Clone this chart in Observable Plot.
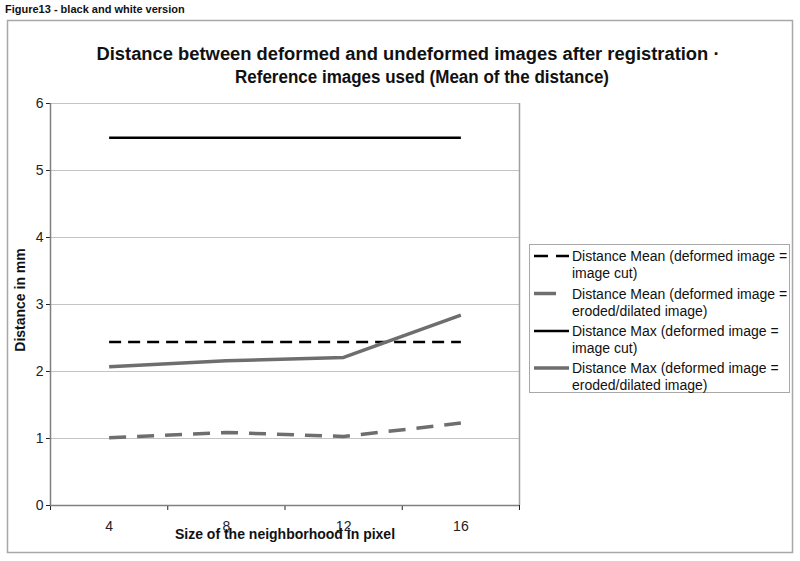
<!DOCTYPE html>
<html>
<head>
<meta charset="utf-8">
<script src="https://cdn.jsdelivr.net/npm/d3@7"></script>
<script src="https://cdn.jsdelivr.net/npm/@observablehq/plot@0.6"></script>
<style>
  html, body { margin: 0; padding: 0; background: #fff; }
  #chart { position: relative; width: 800px; height: 561px; }
</style>
</head>
<body>
<div id="chart"></div>
<script>
// ---- data ----
const sizes = [4, 8, 12, 16];
const xTickLabels = ["4", "8", "12", "16"];
const yTicks = [0, 1, 2, 3, 4, 5, 6];
const seriesNames = [
  "Distance Mean (deformed image = image cut)",
  "Distance Mean (deformed image = eroded/dilated image)",
  "Distance Max (deformed image = image cut)",
  "Distance Max (deformed image = eroded/dilated image)"
];
const meanCut     = [2.44, 2.44, 2.44, 2.44];
const meanEroded  = [1.01, 1.09, 1.03, 1.23];
const maxCut      = [5.49, 5.49, 5.49, 5.49];
const maxEroded   = [2.07, 2.16, 2.21, 2.84];
const legendLines = [
  ["Distance Mean (deformed image =", "image cut)"],
  ["Distance Mean (deformed image =", "eroded/dilated image)"],
  ["Distance Max (deformed image =", "image cut)"],
  ["Distance Max (deformed image =", "eroded/dilated image)"]
];

// ---- styles ----
const styles = [
  {stroke: "#000000", width: 2.5, dash: "12,7"},
  {stroke: "#6e6e6e", width: 3.5, dash: "17,11"},
  {stroke: "#000000", width: 2.5, dash: null},
  {stroke: "#6e6e6e", width: 3.5, dash: null}
];
const allSeries = [meanCut, meanEroded, maxCut, maxEroded];
const rows = [];
allSeries.forEach((vals, i) => vals.forEach((v, j) => rows.push({series: seriesNames[i], idx: i, x: sizes[j], y: v})));

const font = "'Liberation Sans', Arial, sans-serif";

const marks = [
  Plot.ruleY([1, 2, 3, 4, 5, 6], {stroke: "#c4c4c4", strokeWidth: 1}),
  Plot.ruleX([18], {stroke: "#a0a0a0", strokeWidth: 1.5}),
  Plot.ruleX([2], {stroke: "#808080", strokeWidth: 1.5}),
  Plot.ruleY([0], {stroke: "#808080", strokeWidth: 1.5}),
  ...styles.map((s, i) => Plot.line(rows.filter(r => r.idx === i), {
    x: "x", y: "y", stroke: s.stroke, strokeWidth: s.width,
    strokeDasharray: s.dash || undefined, strokeLinecap: "butt", strokeLinejoin: "round"
  })),
  Plot.text(sizes, {x: d => d, y: 0, dy: 21, text: (d, i) => xTickLabels[i], fontSize: 14, fill: "#222"})
];

const plot = Plot.plot({
  width: 800,
  height: 561,
  marginLeft: 50,
  marginRight: 281,
  marginTop: 103,
  marginBottom: 56,
  style: {fontFamily: font, fontSize: "14px", background: "transparent", color: "#222"},
  x: {type: "linear", domain: [2, 18], ticks: [2, 6, 10, 14, 18], tickFormat: () => "", tickSize: 5, label: null},
  y: {domain: [0, 6], ticks: yTicks, tickSize: 4, tickPadding: 3, tickFormat: d3.format("d"), label: null},
  marks
});

document.getElementById("chart").appendChild(plot);

const svg = d3.select(plot);
// axis tick colour
svg.selectAll("g[aria-label='x-axis'] line, g[aria-label='y-axis'] line, g[aria-label='x-axis'] path, g[aria-label='y-axis'] path")
  .attr("stroke", "#808080");
svg.selectAll("g[aria-label='y-axis'] text").attr("font-size", 14).style("font-size", "14px");

// outer frame
svg.insert("rect", ":first-child")
  .attr("x", 7.5).attr("y", 20.5).attr("width", 785).attr("height", 532)
  .attr("fill", "#fff").attr("stroke", "#a8a8a8").attr("stroke-width", 1.5);

// figure label
svg.append("text").attr("x", 5).attr("y", 13).attr("text-anchor", "start")
  .attr("font-family", font).attr("font-size", 11).attr("font-weight", "bold")
  .attr("fill", "#111").text("Figure13 - black and white version");

// title
const t1 = "Distance between deformed and undeformed images after registration \u00b7";
const t2 = "Reference images used (Mean of the distance)";
svg.append("text").attr("x", 408).attr("y", 60).attr("text-anchor", "middle")
  .attr("font-family", font).attr("font-size", 18).attr("font-weight", "bold")
  .attr("fill", "#111").attr("textLength", 623).attr("lengthAdjust", "spacingAndGlyphs").text(t1);
svg.append("text").attr("x", 422).attr("y", 83).attr("text-anchor", "middle")
  .attr("font-family", font).attr("font-size", 18).attr("font-weight", "bold")
  .attr("fill", "#111").attr("textLength", 374).attr("lengthAdjust", "spacingAndGlyphs").text(t2);

// axis labels
svg.append("text").attr("x", 285).attr("y", 539).attr("text-anchor", "middle")
  .attr("font-family", font).attr("font-size", 14).attr("font-weight", "bold")
  .attr("fill", "#111").text("Size of the neighborhood in pixel");
svg.append("text").attr("transform", "translate(25,300) rotate(-90)").attr("text-anchor", "middle")
  .attr("font-family", font).attr("font-size", 14).attr("font-weight", "bold")
  .attr("fill", "#111").text("Distance in mm");

// legend
const lg = svg.append("g");
lg.append("rect").attr("x", 529.5).attr("y", 244.5).attr("width", 260).attr("height", 148)
  .attr("fill", "#fff").attr("stroke", "#a8a8a8").attr("stroke-width", 1);
const itemY = [256, 293.5, 331, 368];
styles.forEach((s, i) => {
  const y = itemY[i];
  lg.append("line").attr("x1", 534).attr("x2", 569).attr("y1", y).attr("y2", y)
    .attr("stroke", s.stroke).attr("stroke-width", s.width)
    .attr("stroke-dasharray", s.dash ? (i === 0 ? "14,8" : "22,14") : null);
  legendLines[i].forEach((line, k) => {
    lg.append("text").attr("x", 572).attr("y", y + k * 17 + 5).attr("text-anchor", "start")
      .attr("font-family", font).attr("font-size", 14).attr("fill", "#111").text(line);
  });
});
</script>
</body>
</html>
